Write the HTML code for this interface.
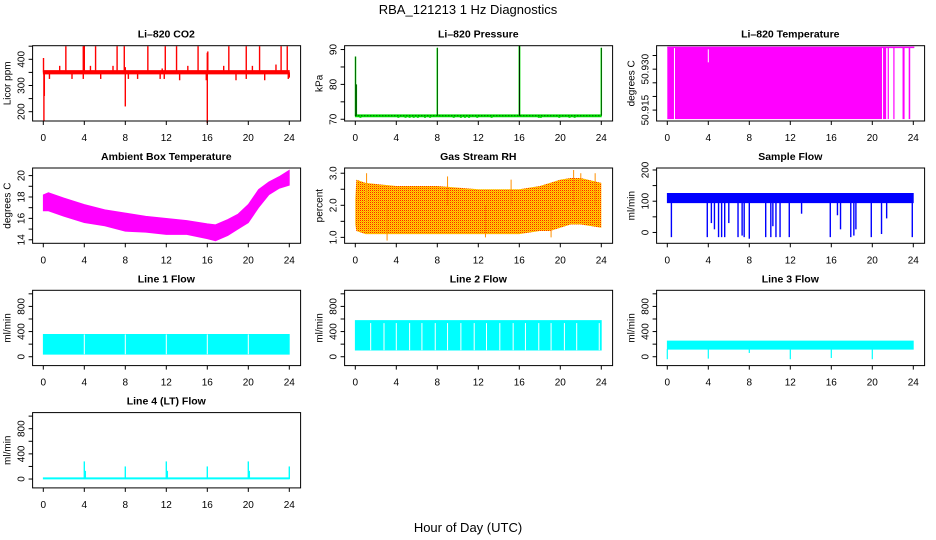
<!DOCTYPE html>
<html><head><meta charset="utf-8"><style>
html,body{margin:0;padding:0;background:#fff;}
svg{display:block;font-family:"Liberation Sans",sans-serif;}
</style></head><body>
<svg id="chart" width="936" height="540" viewBox="0 0 936 540">
<defs><pattern id="rhpat" width="2" height="2" patternUnits="userSpaceOnUse"><rect width="2" height="2" fill="#ffd700"/><rect width="1" height="1" fill="#ff2000"/><rect x="1" y="1" width="1" height="1" fill="#ffa000"/></pattern></defs>
<text x="468" y="14" font-size="13" text-anchor="middle">RBA_121213  1 Hz Diagnostics</text>
<text x="468" y="532" font-size="13" text-anchor="middle">Hour of Day (UTC)</text>
</svg>
<script>
// ---------- data ----------
const xTicks = [0,4,8,12,16,20,24];
// CO2
const co2BandHours = [0,24];
const co2BandLow = [344,344];
const co2BandHigh = [357,357];
const co2SpikeHours = [0.02,0.06,0.1,2.2,3.9,4.0,5.1,7.2,7.9,10.2,11.9,13.0,15.1,16.0,16.05,18.1,19.8,21.1,23.2,23.8,1.6,4.6,6.8,8.0,11.6,14.1,17.6,20.4,22.7,8.0,16.0,0.6,2.8,3.9,5.6,8.3,9.2,11.4,11.8,13.3,15.9,18.8,19.8,21.6,23.9,24.0];
const co2SpikeValues = [405,165,260,450,450,452,450,450,450,450,450,450,450,425,430,450,450,450,450,450,375,375,375,370,365,375,375,375,380,220,157,325,325,325,325,325,325,325,325,320,320,320,325,320,325,330];
// Pressure
const presBase = 71;
const presSpikeHours = [0.02,0.1,8.0,16.0,16.03,24.0];
const presSpikeValues = [88,80,90.5,91,91,90.5];
const presDipHours = [0.5,4.2,4.9,5.3,5.7,6.1,6.8,7.3,9.6,10.3,10.7,11.1,11.9,13.3,17.9,18.1,19.9,20.9,21.4];
const presDipValues = [70.4,70.4,70.4,70.4,70.4,70.4,70.4,70.4,70.4,70.4,70.4,70.4,70.4,70.4,70.4,70.4,70.4,70.4,70.4];
// Li-820 temperature
const tempSegStart = [0,0.75,21.05,21.5,22.05,22.95,23.55];
const tempSegEnd = [0.65,20.95,21.35,21.6,22.15,23.15,23.7];
const tempLow = 50.9117;
const tempHigh = 50.938;
const tempGapHour = 4.0;
const tempGapLow = 50.9325;
// Ambient box temperature
const ambHours = [0,0.5,2,4,6,8,10,12,14,16,16.8,18,19,20,21,22,23,24];
const ambLow = [16.7,16.7,16.2,15.6,15.3,14.8,14.7,14.5,14.5,14.1,13.9,14.4,15.0,15.6,17.0,18.2,18.8,19.1];
const ambHigh = [18.2,18.4,17.9,17.3,16.8,16.5,16.2,16.0,15.8,15.5,15.4,15.9,16.4,17.3,18.7,19.4,19.9,20.5];
// Gas stream RH
const rhHours = [0,0.1,1,4,8,12,16,18,19,20,21,22,24];
const rhLow = [1.4,1.2,1.1,1.1,1.1,1.1,1.1,1.2,1.2,1.3,1.4,1.4,1.3];
const rhHigh = [2.2,2.8,2.7,2.6,2.6,2.5,2.5,2.6,2.7,2.8,2.85,2.85,2.7];
const rhSpikeHours = [1.1,3.1,9.0,12.7,15.2,19.1,21.3,22.0,23.4];
const rhSpikeValues = [3.0,0.9,2.9,1.0,2.8,1.0,3.1,3.0,3.0];
// Sample flow
const sfHours = [0,24];
const sfLow = [95,95];
const sfHigh = [125,125];
const sfDipHours = [0.4,3.9,4.3,4.6,5.0,5.3,5.6,6.0,6.9,7.3,7.5,8.0,9.6,10.1,10.3,10.6,11.0,11.9,13.1,15.9,16.6,16.9,17.9,18.2,18.4,19.9,20.9,21.4,23.9];
const sfDipValues = [-15,-15,30,10,-15,-15,-15,30,-15,-10,-15,-20,-15,-15,20,-15,-15,-15,60,-15,55,10,-15,-10,10,-15,-5,45,-15];
// Line flows
const l1Low = 40, l1High = 355;
const l1GapHours = [4,8,12,16,20];
const l2Low = 105, l2High = 575;
const l2GapHours = [1.5,2.8,4.0,5.3,6.5,7.8,9.0,10.3,11.6,12.8,14.1,15.4,16.6,17.9,19.1,20.4,21.6,23.8];
const l3Low = 120, l3High = 250;
const l3DipHours = [0,4,8,12,16,20];
const l3DipValues = [-40,-30,60,-40,-20,-40];
const l4Low = 0, l4High = 20;
const l4SpikeHours = [4,4.1,8,12,12.1,16,20,20.1,24];
const l4SpikeValues = [280,130,200,280,130,200,280,130,200];

// ---------- drawing helpers ----------
const svg = document.getElementById('chart');
const NS = 'http://www.w3.org/2000/svg';
function mk(tag, attrs, parent){
  const e = document.createElementNS(NS, tag);
  for (const k in attrs) e.setAttribute(k, attrs[k]);
  (parent||svg).appendChild(e);
  return e;
}
function panel(col,row,title,yTitle,yMin,yMax,yTicks,yLabels){
  const x0 = 43.3 + 312*col;
  const left = x0 - 10.7, right = x0 + 257.3;
  const top = 45.7 + 122.3*row, bottom = 121 + 122.3*row;
  const g = mk('g',{});
  
  
  const xs = h => x0 + h/24*246;
  const ys = v => bottom - (v - yMin)/(yMax - yMin)*(bottom-top);
  const t = mk('text',{x:x0+123,y:top-8,'font-size':10.5,'font-weight':'bold','text-anchor':'middle'},g);
  t.textContent = title;
  
  
  const yt = mk('text',{x:0,y:0,'font-size':10,'text-anchor':'middle',transform:`translate(${left-22},${(top+bottom)/2}) rotate(-90)`},g);
  yt.textContent = yTitle;
  
  
  const data = mk('g',{},g);
  
  
  const box = mk('rect',{x:left,y:top,width:right-left,height:bottom-top,fill:'none',stroke:'#000','stroke-width':1},g);
  
  
  xTicks.forEach(h=>{
    mk('line',{x1:xs(h),x2:xs(h),y1:bottom,y2:bottom+4,stroke:'#000'},g);
    const tl = mk('text',{x:xs(h),y:bottom+20,'font-size':10,'text-anchor':'middle'},g);
    tl.textContent = h;
    
    
  });
  yTicks.forEach((v,i)=>{
    mk('line',{x1:left,x2:left-4,y1:ys(v),y2:ys(v),stroke:'#000'},g);
    if (yLabels[i]) {
      const tl = mk('text',{x:0,y:0,'font-size':10,'text-anchor':'middle',transform:`translate(${left-8},${ys(v)}) rotate(-90)`},g);
      tl.textContent = yLabels[i];
      
      
    }
  });
  return {g:data,xs,ys};
}
function band(p,hours,low,high,fill){
  let pts = hours.map((h,i)=>p.xs(h)+','+p.ys(high[i]));
  for (let i=hours.length-1;i>=0;i--) pts.push(p.xs(hours[i])+','+p.ys(low[i]));
  const e = mk('polygon',{points:pts.join(' '),fill:fill,stroke:fill==='url(#rhpat)'?'none':fill,'stroke-width':0.8},p.g);
  
  
}
function spikes(p,hours,vals,base,color,w){
  hours.forEach((h,i)=>{
    const e = mk('line',{x1:p.xs(h),x2:p.xs(h),y1:p.ys(base),y2:p.ys(vals[i]),stroke:color,'stroke-width':w||1.2},p.g);
    
    
  });
}

// CO2
let p = panel(0,0,'Li–820 CO2','Licor ppm',164.5,451.9,[200,250,300,350,400,450],['200','','300','','400','']);
band(p,co2BandHours,co2BandLow,co2BandHigh,'#ff0000');
spikes(p,co2SpikeHours,co2SpikeValues,350,'#ff0000',1.4);

// Pressure
p = panel(1,0,'Li–820 Pressure','kPa',69.5,91.1,[70,75,80,85,90],['70','','80','','90']);
band(p,[0,24],[presBase-0.3,presBase-0.3],[presBase+0.3,presBase+0.3],'#00dd00');
spikes(p,presDipHours,presDipValues,presBase,'#00dd00',2);
spikes(p,presSpikeHours,presSpikeValues,presBase,'#00dd00',1.5);
let dl = mk('line',{x1:p.xs(0),x2:p.xs(24),y1:p.ys(presBase),y2:p.ys(presBase),stroke:'#000','stroke-width':0.8,'stroke-dasharray':'1 2'},p.g);


spikes(p,presSpikeHours,presSpikeValues,presBase,'#000',0.5);

// Li-820 temperature
p = panel(2,0,'Li–820 Temperature','degrees C',50.911,50.9386,[50.915,50.92,50.925,50.93,50.935],['50.915','','','50.930','']);
tempSegStart.forEach((s,i)=>{
  const x1 = p.xs(s), x2 = p.xs(tempSegEnd[i]);
  const r = mk('rect',{x:x1,y:p.ys(tempHigh),width:Math.max(1.2,x2-x1),height:p.ys(tempLow)-p.ys(tempHigh),fill:'#ff00ff'},p.g);
  
  
});
let tl2 = mk('line',{x1:p.xs(0),x2:p.xs(24.1),y1:p.ys(tempHigh),y2:p.ys(tempHigh),stroke:'#ff00ff','stroke-width':1.5},p.g);


let tg = mk('line',{x1:p.xs(tempGapHour),x2:p.xs(tempGapHour),y1:p.ys(tempHigh)+2,y2:p.ys(tempGapLow),stroke:'#fff','stroke-width':1},p.g);



// Ambient
p = panel(0,1,'Ambient Box Temperature','degrees C',13.67,20.71,[14,15,16,17,18,19,20],['14','','16','','18','','20']);
band(p,ambHours,ambLow,ambHigh,'#ff00ff');

// RH
p = panel(1,1,'Gas Stream RH','percent',0.815,3.163,[1,1.5,2,2.5,3],['1.0','','2.0','','3.0']);
band(p,rhHours,rhLow,rhHigh,'url(#rhpat)');
spikes(p,rhSpikeHours,rhSpikeValues,2,'#ff9000',1);

// Sample flow
p = panel(2,1,'Sample Flow','ml/min',-34.7,206.3,[0,50,100,150,200],['0','','100','','200']);
band(p,sfHours,sfLow,sfHigh,'#0000ff');
spikes(p,sfDipHours,sfDipValues,100,'#0000ff',1.4);

const lineTicks = [0,200,400,600,800,1000];
const lineLabels = ['0','','400','','800',''];
// Line 1
p = panel(0,2,'Line 1 Flow','ml/min',-141,1056,lineTicks,lineLabels);
band(p,[0,24],[l1Low,l1Low],[l1High,l1High],'#00ffff');
spikes(p,l1GapHours,l1GapHours.map(()=>l1High),l1Low,'#fff',1);
// Line 2
p = panel(1,2,'Line 2 Flow','ml/min',-141,1056,lineTicks,lineLabels);
band(p,[0,24],[l2Low,l2Low],[l2High,l2High],'#00ffff');
spikes(p,l2GapHours,l2GapHours.map(()=>l2High-40),l2Low,'#fff',1);
// Line 3
p = panel(2,2,'Line 3 Flow','ml/min',-141,1056,lineTicks,lineLabels);
band(p,[0,24],[l3Low,l3Low],[l3High,l3High],'#00ffff');
spikes(p,l3DipHours,l3DipValues,l3Low,'#00ffff',1.2);
// Line 4
p = panel(0,3,'Line 4 (LT) Flow','ml/min',-141,1056,lineTicks,lineLabels);
band(p,[0,24],[l4Low,l4Low],[l4High,l4High],'#00ffff');
spikes(p,l4SpikeHours,l4SpikeValues,l4Low,'#00ffff',1.4);
</script>
</body></html>
